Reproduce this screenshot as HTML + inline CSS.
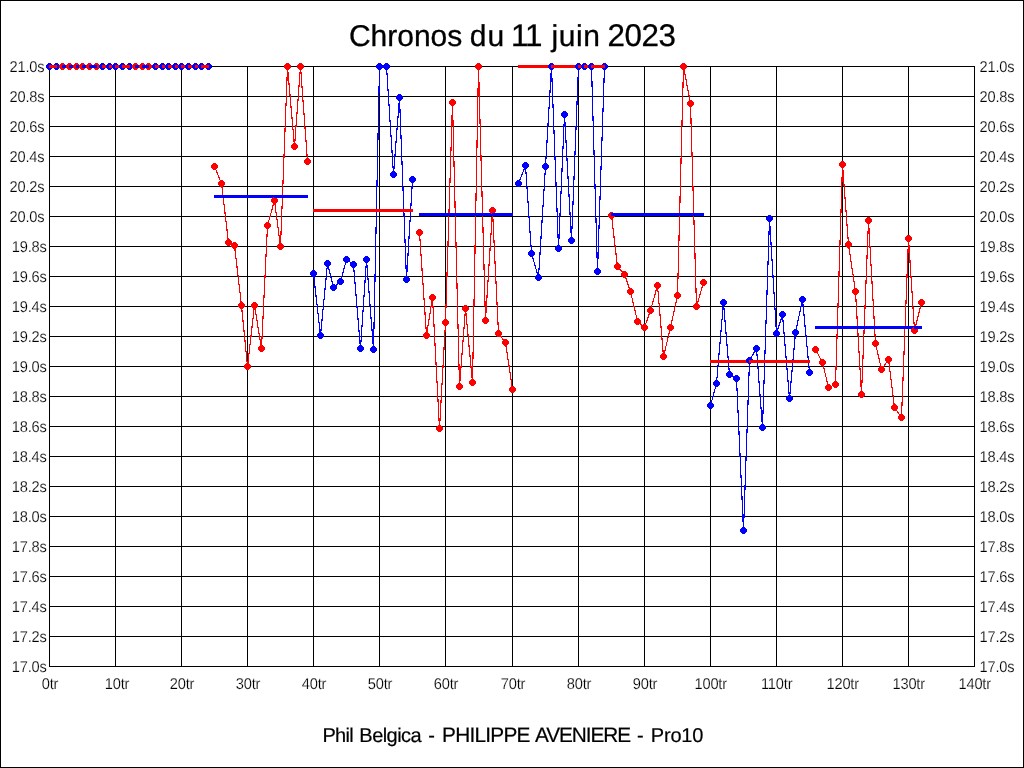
<!DOCTYPE html>
<html lang="fr">
<head>
<meta charset="utf-8">
<title>Chronos du 11 juin 2023</title>
<style>
html,body{margin:0;padding:0;background:#fff;}
body{width:1024px;height:768px;overflow:hidden;position:relative;}
svg{display:block;position:absolute;left:0;top:0;will-change:transform;}
text{font-family:"Liberation Sans",Arial,Helvetica,sans-serif;fill:#000;text-rendering:geometricPrecision;}
.a{font-size:14.67px;letter-spacing:-0.17px;}
.b{stroke:#000;stroke-width:0.3px;}
.c{stroke:#000;stroke-width:0.2px;}
.a{stroke:#fff;stroke-width:0.18px;paint-order:fill stroke;}
</style>
</head>
<body>
<svg width="1024" height="768" viewBox="0 0 1024 768">
<rect x="0" y="0" width="1024" height="768" fill="#fff"/>
<rect x="0.5" y="0.5" width="1023" height="767" fill="none" stroke="#000" stroke-width="1" shape-rendering="crispEdges"/>
<g shape-rendering="crispEdges">
<path d="M49.5 66V667M115.5 66V667M181.5 66V667M247.5 66V667M313.5 66V667M379.5 66V667M445.5 66V667M512.5 66V667M578.5 66V667M644.5 66V667M710.5 66V667M776.5 66V667M842.5 66V667M908.5 66V667M974.5 66V667M49 66.5H975M49 96.5H975M49 126.5H975M49 156.5H975M49 186.5H975M49 216.5H975M49 246.5H975M49 276.5H975M49 306.5H975M49 336.5H975M49 366.5H975M49 396.5H975M49 426.5H975M49 456.5H975M49 486.5H975M49 516.5H975M49 546.5H975M49 576.5H975M49 606.5H975M49 636.5H975M49 666.5H975" stroke="#000" stroke-width="1" fill="none"/>
<path d="M48 63h3v1h1v1h1v3h-1v1h-1v1h-3v-1h-1v-1h-1v-3h1v-1h1z" fill="#0000ff"/>
<path d="M55 63h3v1h1v1h1v3h-1v1h-1v1h-3v-1h-1v-1h-1v-3h1v-1h1z" fill="#0000ff"/>
<path d="M49.5 66.5L56.5 66.5" stroke="#0000ff" stroke-width="1.15" fill="none"/>
<rect x="49" y="65" width="8" height="3" fill="#ff0000"/>
<path d="M61 63h3v1h1v1h1v3h-1v1h-1v1h-3v-1h-1v-1h-1v-3h1v-1h1z" fill="#ff0000"/>
<rect x="62" y="65" width="4" height="3" fill="#0000ff"/>
<path d="M68 63h3v1h1v1h1v3h-1v1h-1v1h-3v-1h-1v-1h-1v-3h1v-1h1z" fill="#ff0000"/>
<rect x="69" y="65" width="4" height="3" fill="#0000ff"/>
<path d="M75 63h3v1h1v1h1v3h-1v1h-1v1h-3v-1h-1v-1h-1v-3h1v-1h1z" fill="#ff0000"/>
<rect x="76" y="65" width="4" height="3" fill="#0000ff"/>
<path d="M81 63h3v1h1v1h1v3h-1v1h-1v1h-3v-1h-1v-1h-1v-3h1v-1h1z" fill="#ff0000"/>
<rect x="82" y="65" width="4" height="3" fill="#0000ff"/>
<path d="M88 63h3v1h1v1h1v3h-1v1h-1v1h-3v-1h-1v-1h-1v-3h1v-1h1z" fill="#ff0000"/>
<path d="M95 63h3v1h1v1h1v3h-1v1h-1v1h-3v-1h-1v-1h-1v-3h1v-1h1z" fill="#ff0000"/>
<path d="M89.5 66.5L96.5 66.5" stroke="#ff0000" stroke-width="1.15" fill="none"/>
<rect x="89" y="65" width="8" height="3" fill="#0000ff"/>
<path d="M101 63h3v1h1v1h1v3h-1v1h-1v1h-3v-1h-1v-1h-1v-3h1v-1h1z" fill="#0000ff"/>
<rect x="102" y="65" width="4" height="3" fill="#ff0000"/>
<path d="M108 63h3v1h1v1h1v3h-1v1h-1v1h-3v-1h-1v-1h-1v-3h1v-1h1z" fill="#0000ff"/>
<rect x="109" y="65" width="4" height="3" fill="#ff0000"/>
<path d="M114 63h3v1h1v1h1v3h-1v1h-1v1h-3v-1h-1v-1h-1v-3h1v-1h1z" fill="#0000ff"/>
<rect x="115" y="65" width="4" height="3" fill="#ff0000"/>
<path d="M121 63h3v1h1v1h1v3h-1v1h-1v1h-3v-1h-1v-1h-1v-3h1v-1h1z" fill="#0000ff"/>
<path d="M128 63h3v1h1v1h1v3h-1v1h-1v1h-3v-1h-1v-1h-1v-3h1v-1h1z" fill="#0000ff"/>
<path d="M122.5 66.5L129.5 66.5" stroke="#0000ff" stroke-width="1.15" fill="none"/>
<rect x="122" y="65" width="8" height="3" fill="#ff0000"/>
<path d="M134 63h3v1h1v1h1v3h-1v1h-1v1h-3v-1h-1v-1h-1v-3h1v-1h1z" fill="#ff0000"/>
<rect x="135" y="65" width="4" height="3" fill="#0000ff"/>
<path d="M141 63h3v1h1v1h1v3h-1v1h-1v1h-3v-1h-1v-1h-1v-3h1v-1h1z" fill="#ff0000"/>
<path d="M147 63h3v1h1v1h1v3h-1v1h-1v1h-3v-1h-1v-1h-1v-3h1v-1h1z" fill="#ff0000"/>
<path d="M142.5 66.5L148.5 66.5" stroke="#ff0000" stroke-width="1.15" fill="none"/>
<rect x="142" y="65" width="7" height="3" fill="#0000ff"/>
<path d="M154 63h3v1h1v1h1v3h-1v1h-1v1h-3v-1h-1v-1h-1v-3h1v-1h1z" fill="#0000ff"/>
<rect x="155" y="65" width="4" height="3" fill="#ff0000"/>
<path d="M161 63h3v1h1v1h1v3h-1v1h-1v1h-3v-1h-1v-1h-1v-3h1v-1h1z" fill="#0000ff"/>
<rect x="162" y="65" width="4" height="3" fill="#ff0000"/>
<path d="M167 63h3v1h1v1h1v3h-1v1h-1v1h-3v-1h-1v-1h-1v-3h1v-1h1z" fill="#0000ff"/>
<rect x="168" y="65" width="4" height="3" fill="#ff0000"/>
<path d="M174 63h3v1h1v1h1v3h-1v1h-1v1h-3v-1h-1v-1h-1v-3h1v-1h1z" fill="#0000ff"/>
<rect x="175" y="65" width="4" height="3" fill="#ff0000"/>
<path d="M180 63h3v1h1v1h1v3h-1v1h-1v1h-3v-1h-1v-1h-1v-3h1v-1h1z" fill="#0000ff"/>
<rect x="181" y="65" width="4" height="3" fill="#ff0000"/>
<path d="M187 63h3v1h1v1h1v3h-1v1h-1v1h-3v-1h-1v-1h-1v-3h1v-1h1z" fill="#0000ff"/>
<rect x="188" y="65" width="4" height="3" fill="#ff0000"/>
<path d="M194 63h3v1h1v1h1v3h-1v1h-1v1h-3v-1h-1v-1h-1v-3h1v-1h1z" fill="#0000ff"/>
<rect x="195" y="65" width="4" height="3" fill="#ff0000"/>
<path d="M200 63h3v1h1v1h1v3h-1v1h-1v1h-3v-1h-1v-1h-1v-3h1v-1h1z" fill="#0000ff"/>
<path d="M207 63h3v1h1v1h1v3h-1v1h-1v1h-3v-1h-1v-1h-1v-3h1v-1h1z" fill="#0000ff"/>
<path d="M201.5 66.5L208.5 66.5" stroke="#0000ff" stroke-width="1.15" fill="none"/>
<rect x="201" y="65" width="8" height="3" fill="#ff0000"/>
<path d="M213 163h3v1h1v1h1v3h-1v1h-1v1h-3v-1h-1v-1h-1v-3h1v-1h1z" fill="#ff0000"/>
<path d="M220 180h3v1h1v1h1v3h-1v1h-1v1h-3v-1h-1v-1h-1v-3h1v-1h1z" fill="#ff0000"/>
<path d="M214.5 166.5L221.5 183.5" stroke="#ff0000" stroke-width="1.15" fill="none"/>
<rect x="214" y="195" width="8" height="3" fill="#0000ff"/>
<path d="M220 180h3v1h1v1h1v3h-1v1h-1v1h-3v-1h-1v-1h-1v-3h1v-1h1z" fill="#ff0000"/>
<path d="M227 239h3v1h1v1h1v3h-1v1h-1v1h-3v-1h-1v-1h-1v-3h1v-1h1z" fill="#ff0000"/>
<path d="M221.5 183.5L228.5 242.5" stroke="#ff0000" stroke-width="1.15" fill="none"/>
<rect x="221" y="195" width="8" height="3" fill="#0000ff"/>
<path d="M227 239h3v1h1v1h1v3h-1v1h-1v1h-3v-1h-1v-1h-1v-3h1v-1h1z" fill="#ff0000"/>
<path d="M233 242h3v1h1v1h1v3h-1v1h-1v1h-3v-1h-1v-1h-1v-3h1v-1h1z" fill="#ff0000"/>
<path d="M228.5 242.5L234.5 245.5" stroke="#ff0000" stroke-width="1.15" fill="none"/>
<rect x="228" y="195" width="7" height="3" fill="#0000ff"/>
<path d="M233 242h3v1h1v1h1v3h-1v1h-1v1h-3v-1h-1v-1h-1v-3h1v-1h1z" fill="#ff0000"/>
<path d="M240 302h3v1h1v1h1v3h-1v1h-1v1h-3v-1h-1v-1h-1v-3h1v-1h1z" fill="#ff0000"/>
<path d="M234.5 245.5L241.5 305.5" stroke="#ff0000" stroke-width="1.15" fill="none"/>
<rect x="234" y="195" width="8" height="3" fill="#0000ff"/>
<path d="M240 302h3v1h1v1h1v3h-1v1h-1v1h-3v-1h-1v-1h-1v-3h1v-1h1z" fill="#ff0000"/>
<path d="M246 363h3v1h1v1h1v3h-1v1h-1v1h-3v-1h-1v-1h-1v-3h1v-1h1z" fill="#ff0000"/>
<path d="M241.5 305.5L247.5 366.5" stroke="#ff0000" stroke-width="1.15" fill="none"/>
<rect x="241" y="195" width="7" height="3" fill="#0000ff"/>
<path d="M246 363h3v1h1v1h1v3h-1v1h-1v1h-3v-1h-1v-1h-1v-3h1v-1h1z" fill="#ff0000"/>
<path d="M253 302h3v1h1v1h1v3h-1v1h-1v1h-3v-1h-1v-1h-1v-3h1v-1h1z" fill="#ff0000"/>
<path d="M247.5 366.5L254.5 305.5" stroke="#ff0000" stroke-width="1.15" fill="none"/>
<rect x="247" y="195" width="8" height="3" fill="#0000ff"/>
<path d="M253 302h3v1h1v1h1v3h-1v1h-1v1h-3v-1h-1v-1h-1v-3h1v-1h1z" fill="#ff0000"/>
<path d="M260 345h3v1h1v1h1v3h-1v1h-1v1h-3v-1h-1v-1h-1v-3h1v-1h1z" fill="#ff0000"/>
<path d="M254.5 305.5L261.5 348.5" stroke="#ff0000" stroke-width="1.15" fill="none"/>
<rect x="254" y="195" width="8" height="3" fill="#0000ff"/>
<path d="M260 345h3v1h1v1h1v3h-1v1h-1v1h-3v-1h-1v-1h-1v-3h1v-1h1z" fill="#ff0000"/>
<path d="M266 222h3v1h1v1h1v3h-1v1h-1v1h-3v-1h-1v-1h-1v-3h1v-1h1z" fill="#ff0000"/>
<path d="M261.5 348.5L267.5 225.5" stroke="#ff0000" stroke-width="1.15" fill="none"/>
<rect x="261" y="195" width="7" height="3" fill="#0000ff"/>
<path d="M266 222h3v1h1v1h1v3h-1v1h-1v1h-3v-1h-1v-1h-1v-3h1v-1h1z" fill="#ff0000"/>
<path d="M273 197h3v1h1v1h1v3h-1v1h-1v1h-3v-1h-1v-1h-1v-3h1v-1h1z" fill="#ff0000"/>
<path d="M267.5 225.5L274.5 200.5" stroke="#ff0000" stroke-width="1.15" fill="none"/>
<rect x="267" y="195" width="8" height="3" fill="#0000ff"/>
<path d="M273 197h3v1h1v1h1v3h-1v1h-1v1h-3v-1h-1v-1h-1v-3h1v-1h1z" fill="#ff0000"/>
<path d="M279 243h3v1h1v1h1v3h-1v1h-1v1h-3v-1h-1v-1h-1v-3h1v-1h1z" fill="#ff0000"/>
<path d="M274.5 200.5L280.5 246.5" stroke="#ff0000" stroke-width="1.15" fill="none"/>
<rect x="274" y="195" width="7" height="3" fill="#0000ff"/>
<path d="M279 243h3v1h1v1h1v3h-1v1h-1v1h-3v-1h-1v-1h-1v-3h1v-1h1z" fill="#ff0000"/>
<path d="M286 63h3v1h1v1h1v3h-1v1h-1v1h-3v-1h-1v-1h-1v-3h1v-1h1z" fill="#ff0000"/>
<path d="M280.5 246.5L287.5 66.5" stroke="#ff0000" stroke-width="1.15" fill="none"/>
<rect x="280" y="195" width="8" height="3" fill="#0000ff"/>
<path d="M286 63h3v1h1v1h1v3h-1v1h-1v1h-3v-1h-1v-1h-1v-3h1v-1h1z" fill="#ff0000"/>
<path d="M293 143h3v1h1v1h1v3h-1v1h-1v1h-3v-1h-1v-1h-1v-3h1v-1h1z" fill="#ff0000"/>
<path d="M287.5 66.5L294.5 146.5" stroke="#ff0000" stroke-width="1.15" fill="none"/>
<rect x="287" y="195" width="8" height="3" fill="#0000ff"/>
<path d="M293 143h3v1h1v1h1v3h-1v1h-1v1h-3v-1h-1v-1h-1v-3h1v-1h1z" fill="#ff0000"/>
<path d="M299 63h3v1h1v1h1v3h-1v1h-1v1h-3v-1h-1v-1h-1v-3h1v-1h1z" fill="#ff0000"/>
<path d="M294.5 146.5L300.5 66.5" stroke="#ff0000" stroke-width="1.15" fill="none"/>
<rect x="294" y="195" width="7" height="3" fill="#0000ff"/>
<path d="M299 63h3v1h1v1h1v3h-1v1h-1v1h-3v-1h-1v-1h-1v-3h1v-1h1z" fill="#ff0000"/>
<path d="M306 158h3v1h1v1h1v3h-1v1h-1v1h-3v-1h-1v-1h-1v-3h1v-1h1z" fill="#ff0000"/>
<path d="M300.5 66.5L307.5 161.5" stroke="#ff0000" stroke-width="1.15" fill="none"/>
<rect x="300" y="195" width="8" height="3" fill="#0000ff"/>
<path d="M312 270h3v1h1v1h1v3h-1v1h-1v1h-3v-1h-1v-1h-1v-3h1v-1h1z" fill="#0000ff"/>
<path d="M319 332h3v1h1v1h1v3h-1v1h-1v1h-3v-1h-1v-1h-1v-3h1v-1h1z" fill="#0000ff"/>
<path d="M313.5 273.5L320.5 335.5" stroke="#0000ff" stroke-width="1.15" fill="none"/>
<rect x="313" y="209" width="8" height="3" fill="#ff0000"/>
<path d="M319 332h3v1h1v1h1v3h-1v1h-1v1h-3v-1h-1v-1h-1v-3h1v-1h1z" fill="#0000ff"/>
<path d="M326 260h3v1h1v1h1v3h-1v1h-1v1h-3v-1h-1v-1h-1v-3h1v-1h1z" fill="#0000ff"/>
<path d="M320.5 335.5L327.5 263.5" stroke="#0000ff" stroke-width="1.15" fill="none"/>
<rect x="320" y="209" width="8" height="3" fill="#ff0000"/>
<path d="M326 260h3v1h1v1h1v3h-1v1h-1v1h-3v-1h-1v-1h-1v-3h1v-1h1z" fill="#0000ff"/>
<path d="M332 284h3v1h1v1h1v3h-1v1h-1v1h-3v-1h-1v-1h-1v-3h1v-1h1z" fill="#0000ff"/>
<path d="M327.5 263.5L333.5 287.5" stroke="#0000ff" stroke-width="1.15" fill="none"/>
<rect x="327" y="209" width="7" height="3" fill="#ff0000"/>
<path d="M332 284h3v1h1v1h1v3h-1v1h-1v1h-3v-1h-1v-1h-1v-3h1v-1h1z" fill="#0000ff"/>
<path d="M339 278h3v1h1v1h1v3h-1v1h-1v1h-3v-1h-1v-1h-1v-3h1v-1h1z" fill="#0000ff"/>
<path d="M333.5 287.5L340.5 281.5" stroke="#0000ff" stroke-width="1.15" fill="none"/>
<rect x="333" y="209" width="8" height="3" fill="#ff0000"/>
<path d="M339 278h3v1h1v1h1v3h-1v1h-1v1h-3v-1h-1v-1h-1v-3h1v-1h1z" fill="#0000ff"/>
<path d="M345 256h3v1h1v1h1v3h-1v1h-1v1h-3v-1h-1v-1h-1v-3h1v-1h1z" fill="#0000ff"/>
<path d="M340.5 281.5L346.5 259.5" stroke="#0000ff" stroke-width="1.15" fill="none"/>
<rect x="340" y="209" width="7" height="3" fill="#ff0000"/>
<path d="M345 256h3v1h1v1h1v3h-1v1h-1v1h-3v-1h-1v-1h-1v-3h1v-1h1z" fill="#0000ff"/>
<path d="M352 261h3v1h1v1h1v3h-1v1h-1v1h-3v-1h-1v-1h-1v-3h1v-1h1z" fill="#0000ff"/>
<path d="M346.5 259.5L353.5 264.5" stroke="#0000ff" stroke-width="1.15" fill="none"/>
<rect x="346" y="209" width="8" height="3" fill="#ff0000"/>
<path d="M352 261h3v1h1v1h1v3h-1v1h-1v1h-3v-1h-1v-1h-1v-3h1v-1h1z" fill="#0000ff"/>
<path d="M359 345h3v1h1v1h1v3h-1v1h-1v1h-3v-1h-1v-1h-1v-3h1v-1h1z" fill="#0000ff"/>
<path d="M353.5 264.5L360.5 348.5" stroke="#0000ff" stroke-width="1.15" fill="none"/>
<rect x="353" y="209" width="8" height="3" fill="#ff0000"/>
<path d="M359 345h3v1h1v1h1v3h-1v1h-1v1h-3v-1h-1v-1h-1v-3h1v-1h1z" fill="#0000ff"/>
<path d="M365 256h3v1h1v1h1v3h-1v1h-1v1h-3v-1h-1v-1h-1v-3h1v-1h1z" fill="#0000ff"/>
<path d="M360.5 348.5L366.5 259.5" stroke="#0000ff" stroke-width="1.15" fill="none"/>
<rect x="360" y="209" width="7" height="3" fill="#ff0000"/>
<path d="M365 256h3v1h1v1h1v3h-1v1h-1v1h-3v-1h-1v-1h-1v-3h1v-1h1z" fill="#0000ff"/>
<path d="M372 346h3v1h1v1h1v3h-1v1h-1v1h-3v-1h-1v-1h-1v-3h1v-1h1z" fill="#0000ff"/>
<path d="M366.5 259.5L373.5 349.5" stroke="#0000ff" stroke-width="1.15" fill="none"/>
<rect x="366" y="209" width="8" height="3" fill="#ff0000"/>
<path d="M372 346h3v1h1v1h1v3h-1v1h-1v1h-3v-1h-1v-1h-1v-3h1v-1h1z" fill="#0000ff"/>
<path d="M378 63h3v1h1v1h1v3h-1v1h-1v1h-3v-1h-1v-1h-1v-3h1v-1h1z" fill="#0000ff"/>
<path d="M373.5 349.5L379.5 66.5" stroke="#0000ff" stroke-width="1.15" fill="none"/>
<rect x="373" y="209" width="7" height="3" fill="#ff0000"/>
<path d="M378 63h3v1h1v1h1v3h-1v1h-1v1h-3v-1h-1v-1h-1v-3h1v-1h1z" fill="#0000ff"/>
<path d="M385 63h3v1h1v1h1v3h-1v1h-1v1h-3v-1h-1v-1h-1v-3h1v-1h1z" fill="#0000ff"/>
<path d="M379.5 66.5L386.5 66.5" stroke="#0000ff" stroke-width="1.15" fill="none"/>
<rect x="379" y="209" width="8" height="3" fill="#ff0000"/>
<path d="M385 63h3v1h1v1h1v3h-1v1h-1v1h-3v-1h-1v-1h-1v-3h1v-1h1z" fill="#0000ff"/>
<path d="M392 171h3v1h1v1h1v3h-1v1h-1v1h-3v-1h-1v-1h-1v-3h1v-1h1z" fill="#0000ff"/>
<path d="M386.5 66.5L393.5 174.5" stroke="#0000ff" stroke-width="1.15" fill="none"/>
<rect x="386" y="209" width="8" height="3" fill="#ff0000"/>
<path d="M392 171h3v1h1v1h1v3h-1v1h-1v1h-3v-1h-1v-1h-1v-3h1v-1h1z" fill="#0000ff"/>
<path d="M398 94h3v1h1v1h1v3h-1v1h-1v1h-3v-1h-1v-1h-1v-3h1v-1h1z" fill="#0000ff"/>
<path d="M393.5 174.5L399.5 97.5" stroke="#0000ff" stroke-width="1.15" fill="none"/>
<rect x="393" y="209" width="7" height="3" fill="#ff0000"/>
<path d="M398 94h3v1h1v1h1v3h-1v1h-1v1h-3v-1h-1v-1h-1v-3h1v-1h1z" fill="#0000ff"/>
<path d="M405 276h3v1h1v1h1v3h-1v1h-1v1h-3v-1h-1v-1h-1v-3h1v-1h1z" fill="#0000ff"/>
<path d="M399.5 97.5L406.5 279.5" stroke="#0000ff" stroke-width="1.15" fill="none"/>
<rect x="399" y="209" width="8" height="3" fill="#ff0000"/>
<path d="M405 276h3v1h1v1h1v3h-1v1h-1v1h-3v-1h-1v-1h-1v-3h1v-1h1z" fill="#0000ff"/>
<path d="M411 176h3v1h1v1h1v3h-1v1h-1v1h-3v-1h-1v-1h-1v-3h1v-1h1z" fill="#0000ff"/>
<path d="M406.5 279.5L412.5 179.5" stroke="#0000ff" stroke-width="1.15" fill="none"/>
<rect x="406" y="209" width="7" height="3" fill="#ff0000"/>
<path d="M418 229h3v1h1v1h1v3h-1v1h-1v1h-3v-1h-1v-1h-1v-3h1v-1h1z" fill="#ff0000"/>
<path d="M425 332h3v1h1v1h1v3h-1v1h-1v1h-3v-1h-1v-1h-1v-3h1v-1h1z" fill="#ff0000"/>
<path d="M419.5 232.5L426.5 335.5" stroke="#ff0000" stroke-width="1.15" fill="none"/>
<rect x="419" y="213" width="8" height="3" fill="#0000ff"/>
<path d="M425 332h3v1h1v1h1v3h-1v1h-1v1h-3v-1h-1v-1h-1v-3h1v-1h1z" fill="#ff0000"/>
<path d="M431 294h3v1h1v1h1v3h-1v1h-1v1h-3v-1h-1v-1h-1v-3h1v-1h1z" fill="#ff0000"/>
<path d="M426.5 335.5L432.5 297.5" stroke="#ff0000" stroke-width="1.15" fill="none"/>
<rect x="426" y="213" width="7" height="3" fill="#0000ff"/>
<path d="M431 294h3v1h1v1h1v3h-1v1h-1v1h-3v-1h-1v-1h-1v-3h1v-1h1z" fill="#ff0000"/>
<path d="M438 425h3v1h1v1h1v3h-1v1h-1v1h-3v-1h-1v-1h-1v-3h1v-1h1z" fill="#ff0000"/>
<path d="M432.5 297.5L439.5 428.5" stroke="#ff0000" stroke-width="1.15" fill="none"/>
<rect x="432" y="213" width="8" height="3" fill="#0000ff"/>
<path d="M438 425h3v1h1v1h1v3h-1v1h-1v1h-3v-1h-1v-1h-1v-3h1v-1h1z" fill="#ff0000"/>
<path d="M444 319h3v1h1v1h1v3h-1v1h-1v1h-3v-1h-1v-1h-1v-3h1v-1h1z" fill="#ff0000"/>
<path d="M439.5 428.5L445.5 322.5" stroke="#ff0000" stroke-width="1.15" fill="none"/>
<rect x="439" y="213" width="7" height="3" fill="#0000ff"/>
<path d="M444 319h3v1h1v1h1v3h-1v1h-1v1h-3v-1h-1v-1h-1v-3h1v-1h1z" fill="#ff0000"/>
<path d="M451 99h3v1h1v1h1v3h-1v1h-1v1h-3v-1h-1v-1h-1v-3h1v-1h1z" fill="#ff0000"/>
<path d="M445.5 322.5L452.5 102.5" stroke="#ff0000" stroke-width="1.15" fill="none"/>
<rect x="445" y="213" width="8" height="3" fill="#0000ff"/>
<path d="M451 99h3v1h1v1h1v3h-1v1h-1v1h-3v-1h-1v-1h-1v-3h1v-1h1z" fill="#ff0000"/>
<path d="M458 383h3v1h1v1h1v3h-1v1h-1v1h-3v-1h-1v-1h-1v-3h1v-1h1z" fill="#ff0000"/>
<path d="M452.5 102.5L459.5 386.5" stroke="#ff0000" stroke-width="1.15" fill="none"/>
<rect x="452" y="213" width="8" height="3" fill="#0000ff"/>
<path d="M458 383h3v1h1v1h1v3h-1v1h-1v1h-3v-1h-1v-1h-1v-3h1v-1h1z" fill="#ff0000"/>
<path d="M464 305h3v1h1v1h1v3h-1v1h-1v1h-3v-1h-1v-1h-1v-3h1v-1h1z" fill="#ff0000"/>
<path d="M459.5 386.5L465.5 308.5" stroke="#ff0000" stroke-width="1.15" fill="none"/>
<rect x="459" y="213" width="7" height="3" fill="#0000ff"/>
<path d="M464 305h3v1h1v1h1v3h-1v1h-1v1h-3v-1h-1v-1h-1v-3h1v-1h1z" fill="#ff0000"/>
<path d="M471 379h3v1h1v1h1v3h-1v1h-1v1h-3v-1h-1v-1h-1v-3h1v-1h1z" fill="#ff0000"/>
<path d="M465.5 308.5L472.5 382.5" stroke="#ff0000" stroke-width="1.15" fill="none"/>
<rect x="465" y="213" width="8" height="3" fill="#0000ff"/>
<path d="M471 379h3v1h1v1h1v3h-1v1h-1v1h-3v-1h-1v-1h-1v-3h1v-1h1z" fill="#ff0000"/>
<path d="M477 63h3v1h1v1h1v3h-1v1h-1v1h-3v-1h-1v-1h-1v-3h1v-1h1z" fill="#ff0000"/>
<path d="M472.5 382.5L478.5 66.5" stroke="#ff0000" stroke-width="1.15" fill="none"/>
<rect x="472" y="213" width="7" height="3" fill="#0000ff"/>
<path d="M477 63h3v1h1v1h1v3h-1v1h-1v1h-3v-1h-1v-1h-1v-3h1v-1h1z" fill="#ff0000"/>
<path d="M484 317h3v1h1v1h1v3h-1v1h-1v1h-3v-1h-1v-1h-1v-3h1v-1h1z" fill="#ff0000"/>
<path d="M478.5 66.5L485.5 320.5" stroke="#ff0000" stroke-width="1.15" fill="none"/>
<rect x="478" y="213" width="8" height="3" fill="#0000ff"/>
<path d="M484 317h3v1h1v1h1v3h-1v1h-1v1h-3v-1h-1v-1h-1v-3h1v-1h1z" fill="#ff0000"/>
<path d="M491 207h3v1h1v1h1v3h-1v1h-1v1h-3v-1h-1v-1h-1v-3h1v-1h1z" fill="#ff0000"/>
<path d="M485.5 320.5L492.5 210.5" stroke="#ff0000" stroke-width="1.15" fill="none"/>
<rect x="485" y="213" width="8" height="3" fill="#0000ff"/>
<path d="M491 207h3v1h1v1h1v3h-1v1h-1v1h-3v-1h-1v-1h-1v-3h1v-1h1z" fill="#ff0000"/>
<path d="M497 330h3v1h1v1h1v3h-1v1h-1v1h-3v-1h-1v-1h-1v-3h1v-1h1z" fill="#ff0000"/>
<path d="M492.5 210.5L498.5 333.5" stroke="#ff0000" stroke-width="1.15" fill="none"/>
<rect x="492" y="213" width="7" height="3" fill="#0000ff"/>
<path d="M497 330h3v1h1v1h1v3h-1v1h-1v1h-3v-1h-1v-1h-1v-3h1v-1h1z" fill="#ff0000"/>
<path d="M504 339h3v1h1v1h1v3h-1v1h-1v1h-3v-1h-1v-1h-1v-3h1v-1h1z" fill="#ff0000"/>
<path d="M498.5 333.5L505.5 342.5" stroke="#ff0000" stroke-width="1.15" fill="none"/>
<rect x="498" y="213" width="8" height="3" fill="#0000ff"/>
<path d="M504 339h3v1h1v1h1v3h-1v1h-1v1h-3v-1h-1v-1h-1v-3h1v-1h1z" fill="#ff0000"/>
<path d="M511 386h3v1h1v1h1v3h-1v1h-1v1h-3v-1h-1v-1h-1v-3h1v-1h1z" fill="#ff0000"/>
<path d="M505.5 342.5L512.5 389.5" stroke="#ff0000" stroke-width="1.15" fill="none"/>
<rect x="505" y="213" width="8" height="3" fill="#0000ff"/>
<path d="M517 180h3v1h1v1h1v3h-1v1h-1v1h-3v-1h-1v-1h-1v-3h1v-1h1z" fill="#0000ff"/>
<path d="M524 162h3v1h1v1h1v3h-1v1h-1v1h-3v-1h-1v-1h-1v-3h1v-1h1z" fill="#0000ff"/>
<path d="M518.5 183.5L525.5 165.5" stroke="#0000ff" stroke-width="1.15" fill="none"/>
<rect x="518" y="65" width="8" height="3" fill="#ff0000"/>
<path d="M524 162h3v1h1v1h1v3h-1v1h-1v1h-3v-1h-1v-1h-1v-3h1v-1h1z" fill="#0000ff"/>
<path d="M530 250h3v1h1v1h1v3h-1v1h-1v1h-3v-1h-1v-1h-1v-3h1v-1h1z" fill="#0000ff"/>
<path d="M525.5 165.5L531.5 253.5" stroke="#0000ff" stroke-width="1.15" fill="none"/>
<rect x="525" y="65" width="7" height="3" fill="#ff0000"/>
<path d="M530 250h3v1h1v1h1v3h-1v1h-1v1h-3v-1h-1v-1h-1v-3h1v-1h1z" fill="#0000ff"/>
<path d="M537 274h3v1h1v1h1v3h-1v1h-1v1h-3v-1h-1v-1h-1v-3h1v-1h1z" fill="#0000ff"/>
<path d="M531.5 253.5L538.5 277.5" stroke="#0000ff" stroke-width="1.15" fill="none"/>
<rect x="531" y="65" width="8" height="3" fill="#ff0000"/>
<path d="M537 274h3v1h1v1h1v3h-1v1h-1v1h-3v-1h-1v-1h-1v-3h1v-1h1z" fill="#0000ff"/>
<path d="M544 163h3v1h1v1h1v3h-1v1h-1v1h-3v-1h-1v-1h-1v-3h1v-1h1z" fill="#0000ff"/>
<path d="M538.5 277.5L545.5 166.5" stroke="#0000ff" stroke-width="1.15" fill="none"/>
<rect x="538" y="65" width="8" height="3" fill="#ff0000"/>
<path d="M544 163h3v1h1v1h1v3h-1v1h-1v1h-3v-1h-1v-1h-1v-3h1v-1h1z" fill="#0000ff"/>
<path d="M550 63h3v1h1v1h1v3h-1v1h-1v1h-3v-1h-1v-1h-1v-3h1v-1h1z" fill="#0000ff"/>
<path d="M545.5 166.5L551.5 66.5" stroke="#0000ff" stroke-width="1.15" fill="none"/>
<rect x="545" y="65" width="7" height="3" fill="#ff0000"/>
<path d="M550 63h3v1h1v1h1v3h-1v1h-1v1h-3v-1h-1v-1h-1v-3h1v-1h1z" fill="#0000ff"/>
<path d="M557 245h3v1h1v1h1v3h-1v1h-1v1h-3v-1h-1v-1h-1v-3h1v-1h1z" fill="#0000ff"/>
<path d="M551.5 66.5L558.5 248.5" stroke="#0000ff" stroke-width="1.15" fill="none"/>
<rect x="551" y="65" width="8" height="3" fill="#ff0000"/>
<path d="M557 245h3v1h1v1h1v3h-1v1h-1v1h-3v-1h-1v-1h-1v-3h1v-1h1z" fill="#0000ff"/>
<path d="M563 111h3v1h1v1h1v3h-1v1h-1v1h-3v-1h-1v-1h-1v-3h1v-1h1z" fill="#0000ff"/>
<path d="M558.5 248.5L564.5 114.5" stroke="#0000ff" stroke-width="1.15" fill="none"/>
<rect x="558" y="65" width="7" height="3" fill="#ff0000"/>
<path d="M563 111h3v1h1v1h1v3h-1v1h-1v1h-3v-1h-1v-1h-1v-3h1v-1h1z" fill="#0000ff"/>
<path d="M570 237h3v1h1v1h1v3h-1v1h-1v1h-3v-1h-1v-1h-1v-3h1v-1h1z" fill="#0000ff"/>
<path d="M564.5 114.5L571.5 240.5" stroke="#0000ff" stroke-width="1.15" fill="none"/>
<rect x="564" y="65" width="8" height="3" fill="#ff0000"/>
<path d="M570 237h3v1h1v1h1v3h-1v1h-1v1h-3v-1h-1v-1h-1v-3h1v-1h1z" fill="#0000ff"/>
<path d="M577 63h3v1h1v1h1v3h-1v1h-1v1h-3v-1h-1v-1h-1v-3h1v-1h1z" fill="#0000ff"/>
<path d="M571.5 240.5L578.5 66.5" stroke="#0000ff" stroke-width="1.15" fill="none"/>
<rect x="571" y="65" width="8" height="3" fill="#ff0000"/>
<path d="M577 63h3v1h1v1h1v3h-1v1h-1v1h-3v-1h-1v-1h-1v-3h1v-1h1z" fill="#0000ff"/>
<path d="M583 63h3v1h1v1h1v3h-1v1h-1v1h-3v-1h-1v-1h-1v-3h1v-1h1z" fill="#0000ff"/>
<path d="M578.5 66.5L584.5 66.5" stroke="#0000ff" stroke-width="1.15" fill="none"/>
<rect x="578" y="65" width="7" height="3" fill="#ff0000"/>
<path d="M583 63h3v1h1v1h1v3h-1v1h-1v1h-3v-1h-1v-1h-1v-3h1v-1h1z" fill="#0000ff"/>
<path d="M590 63h3v1h1v1h1v3h-1v1h-1v1h-3v-1h-1v-1h-1v-3h1v-1h1z" fill="#0000ff"/>
<path d="M584.5 66.5L591.5 66.5" stroke="#0000ff" stroke-width="1.15" fill="none"/>
<rect x="584" y="65" width="8" height="3" fill="#ff0000"/>
<path d="M590 63h3v1h1v1h1v3h-1v1h-1v1h-3v-1h-1v-1h-1v-3h1v-1h1z" fill="#0000ff"/>
<path d="M596 268h3v1h1v1h1v3h-1v1h-1v1h-3v-1h-1v-1h-1v-3h1v-1h1z" fill="#0000ff"/>
<path d="M591.5 66.5L597.5 271.5" stroke="#0000ff" stroke-width="1.15" fill="none"/>
<rect x="591" y="65" width="7" height="3" fill="#ff0000"/>
<path d="M596 268h3v1h1v1h1v3h-1v1h-1v1h-3v-1h-1v-1h-1v-3h1v-1h1z" fill="#0000ff"/>
<path d="M603 63h3v1h1v1h1v3h-1v1h-1v1h-3v-1h-1v-1h-1v-3h1v-1h1z" fill="#0000ff"/>
<path d="M597.5 271.5L604.5 66.5" stroke="#0000ff" stroke-width="1.15" fill="none"/>
<rect x="597" y="65" width="8" height="3" fill="#ff0000"/>
<path d="M610 212h3v1h1v1h1v3h-1v1h-1v1h-3v-1h-1v-1h-1v-3h1v-1h1z" fill="#ff0000"/>
<path d="M616 263h3v1h1v1h1v3h-1v1h-1v1h-3v-1h-1v-1h-1v-3h1v-1h1z" fill="#ff0000"/>
<path d="M611.5 215.5L617.5 266.5" stroke="#ff0000" stroke-width="1.15" fill="none"/>
<rect x="611" y="213" width="7" height="3" fill="#0000ff"/>
<path d="M616 263h3v1h1v1h1v3h-1v1h-1v1h-3v-1h-1v-1h-1v-3h1v-1h1z" fill="#ff0000"/>
<path d="M623 271h3v1h1v1h1v3h-1v1h-1v1h-3v-1h-1v-1h-1v-3h1v-1h1z" fill="#ff0000"/>
<path d="M617.5 266.5L624.5 274.5" stroke="#ff0000" stroke-width="1.15" fill="none"/>
<rect x="617" y="213" width="8" height="3" fill="#0000ff"/>
<path d="M623 271h3v1h1v1h1v3h-1v1h-1v1h-3v-1h-1v-1h-1v-3h1v-1h1z" fill="#ff0000"/>
<path d="M629 288h3v1h1v1h1v3h-1v1h-1v1h-3v-1h-1v-1h-1v-3h1v-1h1z" fill="#ff0000"/>
<path d="M624.5 274.5L630.5 291.5" stroke="#ff0000" stroke-width="1.15" fill="none"/>
<rect x="624" y="213" width="7" height="3" fill="#0000ff"/>
<path d="M629 288h3v1h1v1h1v3h-1v1h-1v1h-3v-1h-1v-1h-1v-3h1v-1h1z" fill="#ff0000"/>
<path d="M636 318h3v1h1v1h1v3h-1v1h-1v1h-3v-1h-1v-1h-1v-3h1v-1h1z" fill="#ff0000"/>
<path d="M630.5 291.5L637.5 321.5" stroke="#ff0000" stroke-width="1.15" fill="none"/>
<rect x="630" y="213" width="8" height="3" fill="#0000ff"/>
<path d="M636 318h3v1h1v1h1v3h-1v1h-1v1h-3v-1h-1v-1h-1v-3h1v-1h1z" fill="#ff0000"/>
<path d="M643 324h3v1h1v1h1v3h-1v1h-1v1h-3v-1h-1v-1h-1v-3h1v-1h1z" fill="#ff0000"/>
<path d="M637.5 321.5L644.5 327.5" stroke="#ff0000" stroke-width="1.15" fill="none"/>
<rect x="637" y="213" width="8" height="3" fill="#0000ff"/>
<path d="M643 324h3v1h1v1h1v3h-1v1h-1v1h-3v-1h-1v-1h-1v-3h1v-1h1z" fill="#ff0000"/>
<path d="M649 307h3v1h1v1h1v3h-1v1h-1v1h-3v-1h-1v-1h-1v-3h1v-1h1z" fill="#ff0000"/>
<path d="M644.5 327.5L650.5 310.5" stroke="#ff0000" stroke-width="1.15" fill="none"/>
<rect x="644" y="213" width="7" height="3" fill="#0000ff"/>
<path d="M649 307h3v1h1v1h1v3h-1v1h-1v1h-3v-1h-1v-1h-1v-3h1v-1h1z" fill="#ff0000"/>
<path d="M656 282h3v1h1v1h1v3h-1v1h-1v1h-3v-1h-1v-1h-1v-3h1v-1h1z" fill="#ff0000"/>
<path d="M650.5 310.5L657.5 285.5" stroke="#ff0000" stroke-width="1.15" fill="none"/>
<rect x="650" y="213" width="8" height="3" fill="#0000ff"/>
<path d="M656 282h3v1h1v1h1v3h-1v1h-1v1h-3v-1h-1v-1h-1v-3h1v-1h1z" fill="#ff0000"/>
<path d="M662 353h3v1h1v1h1v3h-1v1h-1v1h-3v-1h-1v-1h-1v-3h1v-1h1z" fill="#ff0000"/>
<path d="M657.5 285.5L663.5 356.5" stroke="#ff0000" stroke-width="1.15" fill="none"/>
<rect x="657" y="213" width="7" height="3" fill="#0000ff"/>
<path d="M662 353h3v1h1v1h1v3h-1v1h-1v1h-3v-1h-1v-1h-1v-3h1v-1h1z" fill="#ff0000"/>
<path d="M669 324h3v1h1v1h1v3h-1v1h-1v1h-3v-1h-1v-1h-1v-3h1v-1h1z" fill="#ff0000"/>
<path d="M663.5 356.5L670.5 327.5" stroke="#ff0000" stroke-width="1.15" fill="none"/>
<rect x="663" y="213" width="8" height="3" fill="#0000ff"/>
<path d="M669 324h3v1h1v1h1v3h-1v1h-1v1h-3v-1h-1v-1h-1v-3h1v-1h1z" fill="#ff0000"/>
<path d="M676 292h3v1h1v1h1v3h-1v1h-1v1h-3v-1h-1v-1h-1v-3h1v-1h1z" fill="#ff0000"/>
<path d="M670.5 327.5L677.5 295.5" stroke="#ff0000" stroke-width="1.15" fill="none"/>
<rect x="670" y="213" width="8" height="3" fill="#0000ff"/>
<path d="M676 292h3v1h1v1h1v3h-1v1h-1v1h-3v-1h-1v-1h-1v-3h1v-1h1z" fill="#ff0000"/>
<path d="M682 63h3v1h1v1h1v3h-1v1h-1v1h-3v-1h-1v-1h-1v-3h1v-1h1z" fill="#ff0000"/>
<path d="M677.5 295.5L683.5 66.5" stroke="#ff0000" stroke-width="1.15" fill="none"/>
<rect x="677" y="213" width="7" height="3" fill="#0000ff"/>
<path d="M682 63h3v1h1v1h1v3h-1v1h-1v1h-3v-1h-1v-1h-1v-3h1v-1h1z" fill="#ff0000"/>
<path d="M689 100h3v1h1v1h1v3h-1v1h-1v1h-3v-1h-1v-1h-1v-3h1v-1h1z" fill="#ff0000"/>
<path d="M683.5 66.5L690.5 103.5" stroke="#ff0000" stroke-width="1.15" fill="none"/>
<rect x="683" y="213" width="8" height="3" fill="#0000ff"/>
<path d="M689 100h3v1h1v1h1v3h-1v1h-1v1h-3v-1h-1v-1h-1v-3h1v-1h1z" fill="#ff0000"/>
<path d="M695 303h3v1h1v1h1v3h-1v1h-1v1h-3v-1h-1v-1h-1v-3h1v-1h1z" fill="#ff0000"/>
<path d="M690.5 103.5L696.5 306.5" stroke="#ff0000" stroke-width="1.15" fill="none"/>
<rect x="690" y="213" width="7" height="3" fill="#0000ff"/>
<path d="M695 303h3v1h1v1h1v3h-1v1h-1v1h-3v-1h-1v-1h-1v-3h1v-1h1z" fill="#ff0000"/>
<path d="M702 279h3v1h1v1h1v3h-1v1h-1v1h-3v-1h-1v-1h-1v-3h1v-1h1z" fill="#ff0000"/>
<path d="M696.5 306.5L703.5 282.5" stroke="#ff0000" stroke-width="1.15" fill="none"/>
<rect x="696" y="213" width="8" height="3" fill="#0000ff"/>
<path d="M709 402h3v1h1v1h1v3h-1v1h-1v1h-3v-1h-1v-1h-1v-3h1v-1h1z" fill="#0000ff"/>
<path d="M715 380h3v1h1v1h1v3h-1v1h-1v1h-3v-1h-1v-1h-1v-3h1v-1h1z" fill="#0000ff"/>
<path d="M710.5 405.5L716.5 383.5" stroke="#0000ff" stroke-width="1.15" fill="none"/>
<rect x="710" y="360" width="7" height="3" fill="#ff0000"/>
<path d="M715 380h3v1h1v1h1v3h-1v1h-1v1h-3v-1h-1v-1h-1v-3h1v-1h1z" fill="#0000ff"/>
<path d="M722 299h3v1h1v1h1v3h-1v1h-1v1h-3v-1h-1v-1h-1v-3h1v-1h1z" fill="#0000ff"/>
<path d="M716.5 383.5L723.5 302.5" stroke="#0000ff" stroke-width="1.15" fill="none"/>
<rect x="716" y="360" width="8" height="3" fill="#ff0000"/>
<path d="M722 299h3v1h1v1h1v3h-1v1h-1v1h-3v-1h-1v-1h-1v-3h1v-1h1z" fill="#0000ff"/>
<path d="M728 371h3v1h1v1h1v3h-1v1h-1v1h-3v-1h-1v-1h-1v-3h1v-1h1z" fill="#0000ff"/>
<path d="M723.5 302.5L729.5 374.5" stroke="#0000ff" stroke-width="1.15" fill="none"/>
<rect x="723" y="360" width="7" height="3" fill="#ff0000"/>
<path d="M728 371h3v1h1v1h1v3h-1v1h-1v1h-3v-1h-1v-1h-1v-3h1v-1h1z" fill="#0000ff"/>
<path d="M735 375h3v1h1v1h1v3h-1v1h-1v1h-3v-1h-1v-1h-1v-3h1v-1h1z" fill="#0000ff"/>
<path d="M729.5 374.5L736.5 378.5" stroke="#0000ff" stroke-width="1.15" fill="none"/>
<rect x="729" y="360" width="8" height="3" fill="#ff0000"/>
<path d="M735 375h3v1h1v1h1v3h-1v1h-1v1h-3v-1h-1v-1h-1v-3h1v-1h1z" fill="#0000ff"/>
<path d="M742 527h3v1h1v1h1v3h-1v1h-1v1h-3v-1h-1v-1h-1v-3h1v-1h1z" fill="#0000ff"/>
<path d="M736.5 378.5L743.5 530.5" stroke="#0000ff" stroke-width="1.15" fill="none"/>
<rect x="736" y="360" width="8" height="3" fill="#ff0000"/>
<path d="M742 527h3v1h1v1h1v3h-1v1h-1v1h-3v-1h-1v-1h-1v-3h1v-1h1z" fill="#0000ff"/>
<path d="M748 357h3v1h1v1h1v3h-1v1h-1v1h-3v-1h-1v-1h-1v-3h1v-1h1z" fill="#0000ff"/>
<path d="M743.5 530.5L749.5 360.5" stroke="#0000ff" stroke-width="1.15" fill="none"/>
<rect x="743" y="360" width="7" height="3" fill="#ff0000"/>
<path d="M748 357h3v1h1v1h1v3h-1v1h-1v1h-3v-1h-1v-1h-1v-3h1v-1h1z" fill="#0000ff"/>
<path d="M755 345h3v1h1v1h1v3h-1v1h-1v1h-3v-1h-1v-1h-1v-3h1v-1h1z" fill="#0000ff"/>
<path d="M749.5 360.5L756.5 348.5" stroke="#0000ff" stroke-width="1.15" fill="none"/>
<rect x="749" y="360" width="8" height="3" fill="#ff0000"/>
<path d="M755 345h3v1h1v1h1v3h-1v1h-1v1h-3v-1h-1v-1h-1v-3h1v-1h1z" fill="#0000ff"/>
<path d="M761 424h3v1h1v1h1v3h-1v1h-1v1h-3v-1h-1v-1h-1v-3h1v-1h1z" fill="#0000ff"/>
<path d="M756.5 348.5L762.5 427.5" stroke="#0000ff" stroke-width="1.15" fill="none"/>
<rect x="756" y="360" width="7" height="3" fill="#ff0000"/>
<path d="M761 424h3v1h1v1h1v3h-1v1h-1v1h-3v-1h-1v-1h-1v-3h1v-1h1z" fill="#0000ff"/>
<path d="M768 215h3v1h1v1h1v3h-1v1h-1v1h-3v-1h-1v-1h-1v-3h1v-1h1z" fill="#0000ff"/>
<path d="M762.5 427.5L769.5 218.5" stroke="#0000ff" stroke-width="1.15" fill="none"/>
<rect x="762" y="360" width="8" height="3" fill="#ff0000"/>
<path d="M768 215h3v1h1v1h1v3h-1v1h-1v1h-3v-1h-1v-1h-1v-3h1v-1h1z" fill="#0000ff"/>
<path d="M775 330h3v1h1v1h1v3h-1v1h-1v1h-3v-1h-1v-1h-1v-3h1v-1h1z" fill="#0000ff"/>
<path d="M769.5 218.5L776.5 333.5" stroke="#0000ff" stroke-width="1.15" fill="none"/>
<rect x="769" y="360" width="8" height="3" fill="#ff0000"/>
<path d="M775 330h3v1h1v1h1v3h-1v1h-1v1h-3v-1h-1v-1h-1v-3h1v-1h1z" fill="#0000ff"/>
<path d="M781 311h3v1h1v1h1v3h-1v1h-1v1h-3v-1h-1v-1h-1v-3h1v-1h1z" fill="#0000ff"/>
<path d="M776.5 333.5L782.5 314.5" stroke="#0000ff" stroke-width="1.15" fill="none"/>
<rect x="776" y="360" width="7" height="3" fill="#ff0000"/>
<path d="M781 311h3v1h1v1h1v3h-1v1h-1v1h-3v-1h-1v-1h-1v-3h1v-1h1z" fill="#0000ff"/>
<path d="M788 395h3v1h1v1h1v3h-1v1h-1v1h-3v-1h-1v-1h-1v-3h1v-1h1z" fill="#0000ff"/>
<path d="M782.5 314.5L789.5 398.5" stroke="#0000ff" stroke-width="1.15" fill="none"/>
<rect x="782" y="360" width="8" height="3" fill="#ff0000"/>
<path d="M788 395h3v1h1v1h1v3h-1v1h-1v1h-3v-1h-1v-1h-1v-3h1v-1h1z" fill="#0000ff"/>
<path d="M794 329h3v1h1v1h1v3h-1v1h-1v1h-3v-1h-1v-1h-1v-3h1v-1h1z" fill="#0000ff"/>
<path d="M789.5 398.5L795.5 332.5" stroke="#0000ff" stroke-width="1.15" fill="none"/>
<rect x="789" y="360" width="7" height="3" fill="#ff0000"/>
<path d="M794 329h3v1h1v1h1v3h-1v1h-1v1h-3v-1h-1v-1h-1v-3h1v-1h1z" fill="#0000ff"/>
<path d="M801 296h3v1h1v1h1v3h-1v1h-1v1h-3v-1h-1v-1h-1v-3h1v-1h1z" fill="#0000ff"/>
<path d="M795.5 332.5L802.5 299.5" stroke="#0000ff" stroke-width="1.15" fill="none"/>
<rect x="795" y="360" width="8" height="3" fill="#ff0000"/>
<path d="M801 296h3v1h1v1h1v3h-1v1h-1v1h-3v-1h-1v-1h-1v-3h1v-1h1z" fill="#0000ff"/>
<path d="M808 369h3v1h1v1h1v3h-1v1h-1v1h-3v-1h-1v-1h-1v-3h1v-1h1z" fill="#0000ff"/>
<path d="M802.5 299.5L809.5 372.5" stroke="#0000ff" stroke-width="1.15" fill="none"/>
<rect x="802" y="360" width="8" height="3" fill="#ff0000"/>
<path d="M814 346h3v1h1v1h1v3h-1v1h-1v1h-3v-1h-1v-1h-1v-3h1v-1h1z" fill="#ff0000"/>
<path d="M821 359h3v1h1v1h1v3h-1v1h-1v1h-3v-1h-1v-1h-1v-3h1v-1h1z" fill="#ff0000"/>
<path d="M815.5 349.5L822.5 362.5" stroke="#ff0000" stroke-width="1.15" fill="none"/>
<rect x="815" y="326" width="8" height="3" fill="#0000ff"/>
<path d="M821 359h3v1h1v1h1v3h-1v1h-1v1h-3v-1h-1v-1h-1v-3h1v-1h1z" fill="#ff0000"/>
<path d="M827 384h3v1h1v1h1v3h-1v1h-1v1h-3v-1h-1v-1h-1v-3h1v-1h1z" fill="#ff0000"/>
<path d="M822.5 362.5L828.5 387.5" stroke="#ff0000" stroke-width="1.15" fill="none"/>
<rect x="822" y="326" width="7" height="3" fill="#0000ff"/>
<path d="M827 384h3v1h1v1h1v3h-1v1h-1v1h-3v-1h-1v-1h-1v-3h1v-1h1z" fill="#ff0000"/>
<path d="M834 381h3v1h1v1h1v3h-1v1h-1v1h-3v-1h-1v-1h-1v-3h1v-1h1z" fill="#ff0000"/>
<path d="M828.5 387.5L835.5 384.5" stroke="#ff0000" stroke-width="1.15" fill="none"/>
<rect x="828" y="326" width="8" height="3" fill="#0000ff"/>
<path d="M834 381h3v1h1v1h1v3h-1v1h-1v1h-3v-1h-1v-1h-1v-3h1v-1h1z" fill="#ff0000"/>
<path d="M841 161h3v1h1v1h1v3h-1v1h-1v1h-3v-1h-1v-1h-1v-3h1v-1h1z" fill="#ff0000"/>
<path d="M835.5 384.5L842.5 164.5" stroke="#ff0000" stroke-width="1.15" fill="none"/>
<rect x="835" y="326" width="8" height="3" fill="#0000ff"/>
<path d="M841 161h3v1h1v1h1v3h-1v1h-1v1h-3v-1h-1v-1h-1v-3h1v-1h1z" fill="#ff0000"/>
<path d="M847 241h3v1h1v1h1v3h-1v1h-1v1h-3v-1h-1v-1h-1v-3h1v-1h1z" fill="#ff0000"/>
<path d="M842.5 164.5L848.5 244.5" stroke="#ff0000" stroke-width="1.15" fill="none"/>
<rect x="842" y="326" width="7" height="3" fill="#0000ff"/>
<path d="M847 241h3v1h1v1h1v3h-1v1h-1v1h-3v-1h-1v-1h-1v-3h1v-1h1z" fill="#ff0000"/>
<path d="M854 288h3v1h1v1h1v3h-1v1h-1v1h-3v-1h-1v-1h-1v-3h1v-1h1z" fill="#ff0000"/>
<path d="M848.5 244.5L855.5 291.5" stroke="#ff0000" stroke-width="1.15" fill="none"/>
<rect x="848" y="326" width="8" height="3" fill="#0000ff"/>
<path d="M854 288h3v1h1v1h1v3h-1v1h-1v1h-3v-1h-1v-1h-1v-3h1v-1h1z" fill="#ff0000"/>
<path d="M860 391h3v1h1v1h1v3h-1v1h-1v1h-3v-1h-1v-1h-1v-3h1v-1h1z" fill="#ff0000"/>
<path d="M855.5 291.5L861.5 394.5" stroke="#ff0000" stroke-width="1.15" fill="none"/>
<rect x="855" y="326" width="7" height="3" fill="#0000ff"/>
<path d="M860 391h3v1h1v1h1v3h-1v1h-1v1h-3v-1h-1v-1h-1v-3h1v-1h1z" fill="#ff0000"/>
<path d="M867 217h3v1h1v1h1v3h-1v1h-1v1h-3v-1h-1v-1h-1v-3h1v-1h1z" fill="#ff0000"/>
<path d="M861.5 394.5L868.5 220.5" stroke="#ff0000" stroke-width="1.15" fill="none"/>
<rect x="861" y="326" width="8" height="3" fill="#0000ff"/>
<path d="M867 217h3v1h1v1h1v3h-1v1h-1v1h-3v-1h-1v-1h-1v-3h1v-1h1z" fill="#ff0000"/>
<path d="M874 340h3v1h1v1h1v3h-1v1h-1v1h-3v-1h-1v-1h-1v-3h1v-1h1z" fill="#ff0000"/>
<path d="M868.5 220.5L875.5 343.5" stroke="#ff0000" stroke-width="1.15" fill="none"/>
<rect x="868" y="326" width="8" height="3" fill="#0000ff"/>
<path d="M874 340h3v1h1v1h1v3h-1v1h-1v1h-3v-1h-1v-1h-1v-3h1v-1h1z" fill="#ff0000"/>
<path d="M880 366h3v1h1v1h1v3h-1v1h-1v1h-3v-1h-1v-1h-1v-3h1v-1h1z" fill="#ff0000"/>
<path d="M875.5 343.5L881.5 369.5" stroke="#ff0000" stroke-width="1.15" fill="none"/>
<rect x="875" y="326" width="7" height="3" fill="#0000ff"/>
<path d="M880 366h3v1h1v1h1v3h-1v1h-1v1h-3v-1h-1v-1h-1v-3h1v-1h1z" fill="#ff0000"/>
<path d="M887 356h3v1h1v1h1v3h-1v1h-1v1h-3v-1h-1v-1h-1v-3h1v-1h1z" fill="#ff0000"/>
<path d="M881.5 369.5L888.5 359.5" stroke="#ff0000" stroke-width="1.15" fill="none"/>
<rect x="881" y="326" width="8" height="3" fill="#0000ff"/>
<path d="M887 356h3v1h1v1h1v3h-1v1h-1v1h-3v-1h-1v-1h-1v-3h1v-1h1z" fill="#ff0000"/>
<path d="M893 404h3v1h1v1h1v3h-1v1h-1v1h-3v-1h-1v-1h-1v-3h1v-1h1z" fill="#ff0000"/>
<path d="M888.5 359.5L894.5 407.5" stroke="#ff0000" stroke-width="1.15" fill="none"/>
<rect x="888" y="326" width="7" height="3" fill="#0000ff"/>
<path d="M893 404h3v1h1v1h1v3h-1v1h-1v1h-3v-1h-1v-1h-1v-3h1v-1h1z" fill="#ff0000"/>
<path d="M900 414h3v1h1v1h1v3h-1v1h-1v1h-3v-1h-1v-1h-1v-3h1v-1h1z" fill="#ff0000"/>
<path d="M894.5 407.5L901.5 417.5" stroke="#ff0000" stroke-width="1.15" fill="none"/>
<rect x="894" y="326" width="8" height="3" fill="#0000ff"/>
<path d="M900 414h3v1h1v1h1v3h-1v1h-1v1h-3v-1h-1v-1h-1v-3h1v-1h1z" fill="#ff0000"/>
<path d="M907 235h3v1h1v1h1v3h-1v1h-1v1h-3v-1h-1v-1h-1v-3h1v-1h1z" fill="#ff0000"/>
<path d="M901.5 417.5L908.5 238.5" stroke="#ff0000" stroke-width="1.15" fill="none"/>
<rect x="901" y="326" width="8" height="3" fill="#0000ff"/>
<path d="M907 235h3v1h1v1h1v3h-1v1h-1v1h-3v-1h-1v-1h-1v-3h1v-1h1z" fill="#ff0000"/>
<path d="M913 327h3v1h1v1h1v3h-1v1h-1v1h-3v-1h-1v-1h-1v-3h1v-1h1z" fill="#ff0000"/>
<path d="M908.5 238.5L914.5 330.5" stroke="#ff0000" stroke-width="1.15" fill="none"/>
<rect x="908" y="326" width="7" height="3" fill="#0000ff"/>
<path d="M913 327h3v1h1v1h1v3h-1v1h-1v1h-3v-1h-1v-1h-1v-3h1v-1h1z" fill="#ff0000"/>
<path d="M920 299h3v1h1v1h1v3h-1v1h-1v1h-3v-1h-1v-1h-1v-3h1v-1h1z" fill="#ff0000"/>
<path d="M914.5 330.5L921.5 302.5" stroke="#ff0000" stroke-width="1.15" fill="none"/>
<rect x="914" y="326" width="8" height="3" fill="#0000ff"/>
</g>
<g>
<text y="46" font-size="30" class="b"><tspan x="348.9" letter-spacing="0.0">Chronos</tspan> <tspan x="469.74" letter-spacing="1.133">du</tspan> <tspan x="511.1" font-size="31.35" letter-spacing="-1.221">11</tspan> <tspan x="551.48" letter-spacing="0.589">juin</tspan> <tspan x="607.39" font-size="31.35" letter-spacing="-0.355">2023</tspan></text>
<text y="741.5" font-size="20" class="c"><tspan x="322.4" letter-spacing="-0.7">Phil</tspan> <tspan x="359.36" letter-spacing="-0.559">Belgica</tspan> <tspan x="428.21" letter-spacing="0">-</tspan> <tspan x="442.11" font-size="20.8" letter-spacing="-0.763">PHILIPPE</tspan> <tspan x="535.06" font-size="20.8" letter-spacing="-1.091">AVENIERE</tspan> <tspan x="637.11" letter-spacing="0">-</tspan> <tspan x="650.86" letter-spacing="-0.237">Pro10</tspan></text>
<text transform="translate(44.5 72) scale(1 1.07)" text-anchor="end" class="a">21.0s</text>
<text transform="translate(979.5 72) scale(1 1.07)" class="a">21.0s</text>
<text transform="translate(44.5 102) scale(1 1.07)" text-anchor="end" class="a">20.8s</text>
<text transform="translate(979.5 102) scale(1 1.07)" class="a">20.8s</text>
<text transform="translate(44.5 132) scale(1 1.07)" text-anchor="end" class="a">20.6s</text>
<text transform="translate(979.5 132) scale(1 1.07)" class="a">20.6s</text>
<text transform="translate(44.5 162) scale(1 1.07)" text-anchor="end" class="a">20.4s</text>
<text transform="translate(979.5 162) scale(1 1.07)" class="a">20.4s</text>
<text transform="translate(44.5 192) scale(1 1.07)" text-anchor="end" class="a">20.2s</text>
<text transform="translate(979.5 192) scale(1 1.07)" class="a">20.2s</text>
<text transform="translate(44.5 222) scale(1 1.07)" text-anchor="end" class="a">20.0s</text>
<text transform="translate(979.5 222) scale(1 1.07)" class="a">20.0s</text>
<text transform="translate(46.7 252) scale(1 1.07)" text-anchor="end" class="a">19.8s</text>
<text transform="translate(979.5 252) scale(1 1.07)" class="a">19.8s</text>
<text transform="translate(46.7 282) scale(1 1.07)" text-anchor="end" class="a">19.6s</text>
<text transform="translate(979.5 282) scale(1 1.07)" class="a">19.6s</text>
<text transform="translate(46.7 312) scale(1 1.07)" text-anchor="end" class="a">19.4s</text>
<text transform="translate(979.5 312) scale(1 1.07)" class="a">19.4s</text>
<text transform="translate(46.7 342) scale(1 1.07)" text-anchor="end" class="a">19.2s</text>
<text transform="translate(979.5 342) scale(1 1.07)" class="a">19.2s</text>
<text transform="translate(46.7 372) scale(1 1.07)" text-anchor="end" class="a">19.0s</text>
<text transform="translate(979.5 372) scale(1 1.07)" class="a">19.0s</text>
<text transform="translate(46.7 402) scale(1 1.07)" text-anchor="end" class="a">18.8s</text>
<text transform="translate(979.5 402) scale(1 1.07)" class="a">18.8s</text>
<text transform="translate(46.7 432) scale(1 1.07)" text-anchor="end" class="a">18.6s</text>
<text transform="translate(979.5 432) scale(1 1.07)" class="a">18.6s</text>
<text transform="translate(46.7 462) scale(1 1.07)" text-anchor="end" class="a">18.4s</text>
<text transform="translate(979.5 462) scale(1 1.07)" class="a">18.4s</text>
<text transform="translate(46.7 492) scale(1 1.07)" text-anchor="end" class="a">18.2s</text>
<text transform="translate(979.5 492) scale(1 1.07)" class="a">18.2s</text>
<text transform="translate(46.7 522) scale(1 1.07)" text-anchor="end" class="a">18.0s</text>
<text transform="translate(979.5 522) scale(1 1.07)" class="a">18.0s</text>
<text transform="translate(46.7 552) scale(1 1.07)" text-anchor="end" class="a">17.8s</text>
<text transform="translate(979.5 552) scale(1 1.07)" class="a">17.8s</text>
<text transform="translate(46.7 582) scale(1 1.07)" text-anchor="end" class="a">17.6s</text>
<text transform="translate(979.5 582) scale(1 1.07)" class="a">17.6s</text>
<text transform="translate(46.7 612) scale(1 1.07)" text-anchor="end" class="a">17.4s</text>
<text transform="translate(979.5 612) scale(1 1.07)" class="a">17.4s</text>
<text transform="translate(46.7 642) scale(1 1.07)" text-anchor="end" class="a">17.2s</text>
<text transform="translate(979.5 642) scale(1 1.07)" class="a">17.2s</text>
<text transform="translate(46.7 672) scale(1 1.07)" text-anchor="end" class="a">17.0s</text>
<text transform="translate(979.5 672) scale(1 1.07)" class="a">17.0s</text>
<text transform="translate(50 689) scale(1 1.07)" text-anchor="middle" class="a">0tr</text>
<text transform="translate(117 689) scale(1 1.07)" text-anchor="middle" class="a">10tr</text>
<text transform="translate(182 689) scale(1 1.07)" text-anchor="middle" class="a">20tr</text>
<text transform="translate(248 689) scale(1 1.07)" text-anchor="middle" class="a">30tr</text>
<text transform="translate(314 689) scale(1 1.07)" text-anchor="middle" class="a">40tr</text>
<text transform="translate(380 689) scale(1 1.07)" text-anchor="middle" class="a">50tr</text>
<text transform="translate(446 689) scale(1 1.07)" text-anchor="middle" class="a">60tr</text>
<text transform="translate(513 689) scale(1 1.07)" text-anchor="middle" class="a">70tr</text>
<text transform="translate(579 689) scale(1 1.07)" text-anchor="middle" class="a">80tr</text>
<text transform="translate(645 689) scale(1 1.07)" text-anchor="middle" class="a">90tr</text>
<text transform="translate(710.7 689) scale(1 1.07)" text-anchor="middle" class="a">100tr</text>
<text transform="translate(776.7 689) scale(1 1.07)" text-anchor="middle" class="a">110tr</text>
<text transform="translate(842.7 689) scale(1 1.07)" text-anchor="middle" class="a">120tr</text>
<text transform="translate(908.7 689) scale(1 1.07)" text-anchor="middle" class="a">130tr</text>
<text transform="translate(974.7 689) scale(1 1.07)" text-anchor="middle" class="a">140tr</text>
</g>
</svg>
</body>
</html>
